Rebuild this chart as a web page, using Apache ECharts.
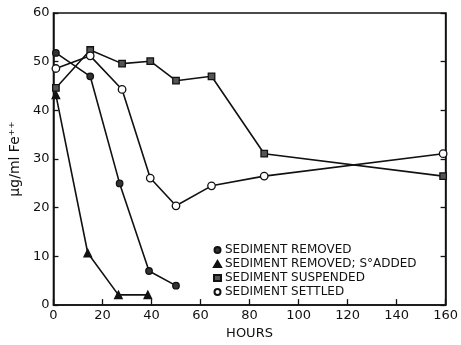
<!DOCTYPE html>
<html>
<head>
<meta charset="utf-8">
<script src="https://cdn.jsdelivr.net/npm/echarts@6/dist/echarts.min.js"></script>
<style>
	html, body { margin: 0; padding: 0; background: #fff; }
	#chart { width: 461px; height: 345px; }
</style>
</head>
<body>
<div id="chart"></div>
<script>
	// hours / ug per ml Fe++
	const removedX = [1, 15, 27, 39, 50];
	const removedY = [51.8, 47, 25, 7, 4];
	const sAddedX = [1, 14, 26.5, 38.5];
	const sAddedY = [43.2, 10.7, 2.1, 2.1];
	const suspendedX = [1, 15, 28, 39.5, 50, 64.5, 86, 159];
	const suspendedY = [44.6, 52.4, 49.6, 50.1, 46.1, 47, 31.1, 26.5];
	const settledX = [1, 15, 28, 39.5, 50, 64.5, 86, 159];
	const settledY = [48.6, 51.2, 44.3, 26.1, 20.4, 24.5, 26.5, 31.1];
	const seriesNames = ["SEDIMENT REMOVED", "SEDIMENT REMOVED; S°ADDED", "SEDIMENT SUSPENDED", "SEDIMENT SETTLED"];

	const pairs = (xs, ys) => xs.map((x, i) => [x, ys[i]]);
	const font = "DejaVu Sans";

	const chart = echarts.init(document.getElementById("chart"));

	function line(name, data, symbol, size, fill) {
		return {
			name: name,
			type: "line",
			data: data,
			symbol: symbol,
			symbolSize: size,
			showAllSymbol: true,
			lineStyle: { color: "#111", width: 1.6 },
			itemStyle: { color: fill, borderColor: "#111", borderWidth: 1.3 },
			emphasis: { disabled: true },
			z: 3
		};
	}

	const yAxisBase = {
		type: "value",
		min: 0,
		max: 60,
		interval: 10,
		splitLine: { show: false },
		axisLine: { show: true, lineStyle: { color: "#111", width: 1.5 } },
		axisTick: { show: true, inside: true, length: 5, lineStyle: { color: "#111", width: 1.3 } }
	};

	chart.setOption({
		animation: false,
		backgroundColor: "#fff",
		grid: { left: 52, right: 7, top: 13, bottom: 31, show: true, borderColor: "#111", borderWidth: 1.5 },
		xAxis: {
			type: "value",
			min: 0,
			max: 160,
			interval: 20,
			name: "HOURS",
			nameLocation: "middle",
			nameGap: 17,
			nameTextStyle: { fontFamily: font, fontSize: 13, color: "#111" },
			splitLine: { show: false },
			axisLine: { show: true, lineStyle: { color: "#111", width: 1.5 } },
			axisTick: { show: true, inside: true, length: 6, lineStyle: { color: "#111", width: 1.3 } },
			axisLabel: { fontFamily: font, fontSize: 13, color: "#111", margin: 4 }
		},
		yAxis: [
			Object.assign({}, yAxisBase, {
				position: "left",
				name: "μg/ml Fe⁺⁺",
				nameLocation: "middle",
				nameGap: 31,
				nameRotate: 90,
				nameTextStyle: { fontFamily: font, fontSize: 14, color: "#111" },
				axisLabel: { fontFamily: font, fontSize: 13, color: "#111", margin: 4 }
			}),
			Object.assign({}, yAxisBase, {
				position: "right",
				axisLabel: { show: false }
			})
		],
		legend: {
			orient: "vertical",
			left: 208,
			top: 239,
			itemGap: 2,
			itemWidth: 7,
			itemHeight: 6,
			textStyle: { fontFamily: font, fontSize: 12, color: "#111", padding: [0, 0, 0, -1] },
			data: [
				{ name: seriesNames[0], icon: "circle" },
				{ name: seriesNames[1], icon: "triangle" },
				{ name: seriesNames[2], icon: "rect" },
				{ name: seriesNames[3], icon: "circle" }
			]
		},
		series: [
			line(seriesNames[0], pairs(removedX, removedY), "circle", 6.5, "#333"),
			line(seriesNames[1], pairs(sAddedX, sAddedY), "triangle", 7.5, "#111"),
			line(seriesNames[2], pairs(suspendedX, suspendedY), "rect", 6.5, "#555"),
			line(seriesNames[3], pairs(settledX, settledY), "circle", 7.5, "#fff")
		]
	});
</script>
</body>
</html>
